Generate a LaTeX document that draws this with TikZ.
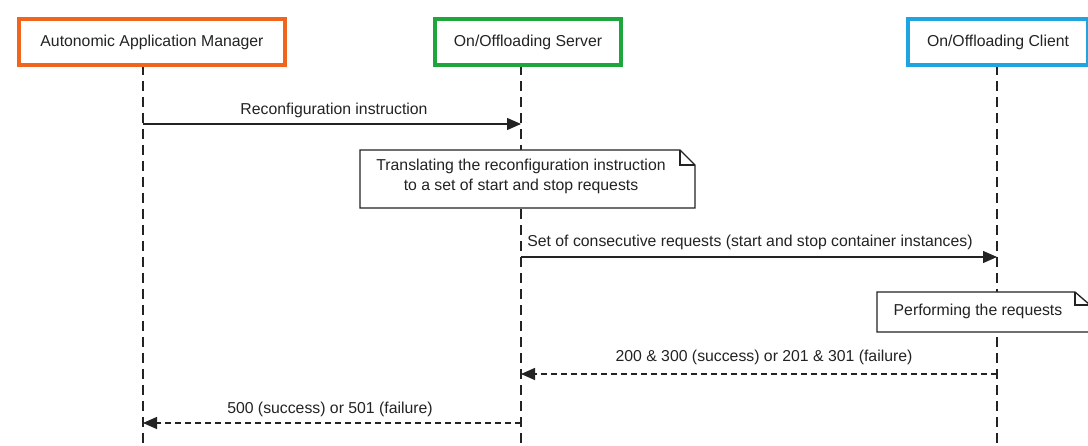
\documentclass[tikz,border=0pt]{standalone}
\usepackage{fontspec}
\setmainfont{Liberation Sans}
\usetikzlibrary{arrows.meta}
\definecolor{amOrange}{RGB}{240,100,30}
\definecolor{srvGreen}{RGB}{30,165,60}
\definecolor{cliBlue}{RGB}{30,165,225}
\definecolor{ink}{RGB}{35,35,35}
\tikzset{
  actor/.style={draw=#1, line width=4pt, fill=white, minimum height=46pt,
    inner sep=0pt, font=\fontsize{15.8}{18}\selectfont, text=ink, anchor=north west},
  lifeline/.style={draw=ink, line width=1.4pt, dash pattern=on 10pt off 6pt},
  msg/.style={draw=ink, line width=1.3pt, -{Triangle[length=14pt,width=12pt]}},
  reply/.style={msg, dash pattern=on 6pt off 4pt},
  lbl/.style={font=\fontsize{15.8}{18}\selectfont, text=ink, inner sep=0pt},
  notetext/.style={font=\fontsize{15.8}{20}\selectfont, text=ink, align=center, inner sep=0pt},
  noteframe/.style={draw=ink, line width=1.3pt, fill=white}
}
\begin{document}
\begin{tikzpicture}[x=1pt,y=-1pt]
  \useasboundingbox (0,0) rectangle (1088,446);
  \clip (0,0) rectangle (1088,446);
  \fill[white] (0,0) rectangle (1088,446);

  % lifelines
  \coordinate (amTop) at (143,65);  \coordinate (amBot) at (143,446);
  \coordinate (svTop) at (521,65);  \coordinate (svBot) at (521,446);
  \coordinate (clTop) at (997,65);  \coordinate (clBot) at (997,446);
  \draw[lifeline] (amTop) -- (amBot);
  \draw[lifeline] (svTop) -- (svBot);
  \draw[lifeline] (clTop) -- (clBot);

  % participants
  \node[actor=amOrange, minimum width=266pt] (am) at (17,17) {Autonomic Application Manager};
  \node[actor=srvGreen, minimum width=186pt] (sv) at (433,17) {On/Offloading Server};
  \node[actor=cliBlue, minimum width=180pt] (cl) at (906,17) {On/Offloading Client};

  % message points on lifelines
  \coordinate (m1a) at (143,124); \coordinate (m1b) at (521,124);
  \coordinate (m2a) at (521,257); \coordinate (m2b) at (997,257);
  \coordinate (m3a) at (997,374); \coordinate (m3b) at (521,374);
  \coordinate (m4a) at (521,423); \coordinate (m4b) at (143,423);

  \draw[msg] (m1a) -- (m1b);
  \node[lbl] (l1) at (334,110) {Reconfiguration instruction};

  % note on the server lifeline
  \draw[noteframe] (360,150) -- (680,150) -- (695,165) -- (695,208) -- (360,208) -- cycle;
  \draw[ink, line width=1.3pt] (680,150) -- (680,165) -- (695,165);
  \node[notetext] (n1) at (521,176) {Translating the reconfiguration instruction\\to a set of start and stop requests};

  \draw[msg] (m2a) -- (m2b);
  \node[lbl] (l2) at (750,242) {Set of consecutive requests (start and stop container instances)};

  % note on the client lifeline
  \draw[noteframe] (877,292) -- (1075,292) -- (1090,305) -- (1090,332) -- (877,332) -- cycle;
  \draw[ink, line width=1.3pt] (1075,292) -- (1075,305) -- (1090,305);
  \node[lbl] (n2) at (978,311) {Performing the requests};

  \draw[reply] (m3a) -- (m3b);
  \node[lbl] (l3) at (764,357) {200 \& 300 (success) or 201 \& 301 (failure)};

  \draw[reply] (m4a) -- (m4b);
  \node[lbl] (l4) at (330,409) {500 (success) or 501 (failure)};
\end{tikzpicture}
\end{document}
